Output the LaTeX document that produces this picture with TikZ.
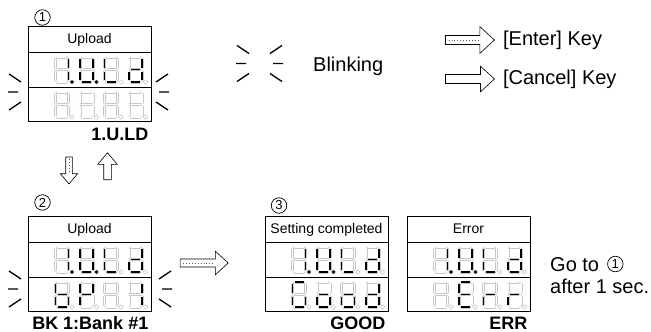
\documentclass[tikz,border=0pt]{standalone}
\usepackage{fontspec}
\setmainfont{Liberation Sans}
\usetikzlibrary{shapes.arrows,calc,positioning}

\tikzset{
  panelbox/.style={draw, line width=1pt, minimum width=123pt, minimum height=95pt, inner sep=0pt},
  paneltitle/.style={font=\fontsize{14}{16}\selectfont, inner sep=0pt, anchor=base},
  segoff/.style={draw=gray!45, double=white, double distance=1.4pt, line width=0.8pt, line cap=round},
  segon/.style={draw=black, line width=1.9pt},
  blinkline/.style={line width=1.3pt},
  keyarrow/.style={single arrow, draw, line width=0.6pt, fill=white, inner xsep=0pt, single arrow tip angle=85},
  keydots/.style={gray!70!black, line width=0.9pt, dash pattern=on 0.9pt off 2pt},
  keylabel/.style={font=\bfseries\fontsize{18}{20}\selectfont, inner sep=0pt, anchor=base east},
  note/.style={font=\fontsize{20}{24}\selectfont, inner sep=0pt},
  stepnum/.style={circle, draw, line width=0.7pt, minimum size=15.5pt, inner sep=0pt, font=\fontsize{13}{14}\selectfont}
}

% segments of one digit (y runs downwards)
\expandafter\def\csname seg-a\endcsname#1{\draw[#1] (-4.5,-12.5) -- (4.5,-12.5);}
\expandafter\def\csname seg-b\endcsname#1{\draw[#1] (6.5,-10.5) -- (6.5,-2);}
\expandafter\def\csname seg-c\endcsname#1{\draw[#1] (6.5,2) -- (6.5,10.5);}
\expandafter\def\csname seg-d\endcsname#1{\draw[#1] (-4.5,12.5) -- (4.5,12.5);}
\expandafter\def\csname seg-e\endcsname#1{\draw[#1] (-6.5,2) -- (-6.5,10.5);}
\expandafter\def\csname seg-f\endcsname#1{\draw[#1] (-6.5,-10.5) -- (-6.5,-2);}
\expandafter\def\csname seg-g\endcsname#1{\draw[#1] (-4.5,0) -- (4.5,0);}
\expandafter\def\csname seg-p\endcsname#1{\draw[#1] (10,12.5) circle (0.6);}
\expandafter\def\csname seg-x\endcsname#1{}

\newcommand{\sevenseg}[3]{%
  \begin{scope}[shift={(#1,#2)}]
    \foreach \s in {a,b,c,d,e,f,g,p}{\csname seg-\s\endcsname{segoff}}
    \foreach \s in {#3}{\csname seg-\s\endcsname{segon}}
  \end{scope}}

% four digits of one row
\newcommand{\digitrow}[6]{%
  \sevenseg{#1+34}{#2}{#3}
  \sevenseg{#1+58.5}{#2}{#4}
  \sevenseg{#1+83}{#2}{#5}
  \sevenseg{#1+107.5}{#2}{#6}}

\newcommand{\blinks}[3]{%
  \begin{scope}[shift={(#1,#2)}, xscale=#3]
    \draw[blinkline] (-6,-18) -- (6,-10) (-7,0) -- (3,0) (-6,18) -- (6,10);
  \end{scope}}

% display: name, left, top, title
\newcommand{\dpanel}[4]{%
  \node[panelbox] (#1) at (#2+61.5,#3+47.5) {};
  \node[paneltitle] (#1t) at (#2+61.5,#3+17) {#4};
  \draw[line width=1pt] (#2,#3+25.5) -- +(123,0) (#2,#3+60.5) -- +(123,0);}

\begin{document}
\begin{tikzpicture}[x=1pt,y=-1pt]
\useasboundingbox (0,0) rectangle (651,332);

% 1: upload
\node[stepnum] (n1) at (42.5,17.5) {1};
\dpanel{d1}{28}{26.5}{Upload}
\digitrow{28}{69.5}{b,c,p}{b,c,d,e,f,p}{d,e,f}{b,c,d,e,g}
\digitrow{28}{104.5}{x}{x}{x}{x}
\blinks{15}{92}{1}
\blinks{162}{92}{-1}
\node[keylabel] (l1) at ($(d1.south east)+(-3,18)$) {1.U.LD};

% enter / cancel between 1 and 2
\node[keyarrow, shape border rotate=270, minimum height=27pt, minimum width=16.6pt,
  inner sep=3pt, single arrow head extend=5.3pt, single arrow tip angle=80] (down) at (69,168.5) {};
\draw[keydots] ($(down.tail)!0.1!(down.tip)$) -- ($(down.tail)!0.62!(down.tip)$);
\node[keyarrow, shape border rotate=90, minimum height=27pt, minimum width=19pt,
  inner sep=3.5pt, single arrow head extend=6pt, single arrow tip angle=80] (up) at (107.5,168.5) {};

% 2: bank
\node[stepnum] (n2) at (42.5,202.5) {2};
\dpanel{d2}{28}{216.5}{Upload}
\digitrow{28}{259.5}{b,c,p}{b,c,d,e,f,p}{d,e,f}{b,c,d,e,g}
\digitrow{28}{294.5}{c,d,e,f,g}{b,e,f,g}{x}{b,c}
\blinks{15}{289}{1}
\blinks{165}{289}{-1}
\node[keylabel] (l2) at ($(d2.south east)+(-3,17.5)$) {BK 1:Bank \#1};

\node[keyarrow, minimum height=48pt, minimum width=23pt,
  inner ysep=3.7pt, single arrow head extend=7.8pt] (go) at (202,263) {};
\draw[keydots] ($(go.tail)!0.07!(go.tip)$) -- ($(go.tail)!0.68!(go.tip)$);

% 3: result
\node[stepnum] (n3) at (279,205.5) {3};
\dpanel{d3}{265}{216.5}{Setting completed}
\digitrow{265}{259.5}{b,c,p}{b,c,d,e,f,p}{d,e,f}{b,c,d,e,g}
\digitrow{265}{294.5}{a,c,d,e,f}{c,d,e,g}{c,d,e,g}{b,c,d,e,g}
\node[keylabel] (l3) at ($(d3.south east)+(-3,17.5)$) {GOOD};

\dpanel{d4}{407}{216.5}{Error}
\digitrow{407}{259.5}{b,c,p}{b,c,d,e,f,p}{d,e,f}{b,c,d,e,g}
\digitrow{407}{294.5}{x}{a,d,e,f,g}{e,g}{e,g}
\node[keylabel] (l4) at ($(d4.south east)+(-3,17.5)$) {ERR};

\node[note, anchor=base west] (goto) at (550,271.5) {Go to};
\node[stepnum] (n1back) at ($(goto.base east)+(16,-7.5)$) {1};
\node[note, anchor=base west] (gotime) at (550,293) {after 1 sec.};

% legend
\blinks{243}{63.5}{1}
\blinks{276}{63.5}{-1}
\node[note, anchor=base west] (blinktxt) at (313,71.5) {Blinking};

\node[keyarrow, minimum height=49pt, minimum width=26pt,
  inner ysep=4.2pt, single arrow head extend=8.8pt] (enterkey) at (467.5,40) {};
\draw[keydots] ($(enterkey.tail)!0.07!(enterkey.tip)$) -- ($(enterkey.tail)!0.68!(enterkey.tip)$);
\node[note, right=8pt of enterkey] (entertxt) {[Enter] Key};

\node[keyarrow, minimum height=49pt, minimum width=25pt,
  inner ysep=4.2pt, single arrow head extend=8.3pt] (cancelkey) at (467.5,79) {};
\node[note, right=8pt of cancelkey] (canceltxt) {[Cancel] Key};
\end{tikzpicture}
\end{document}
